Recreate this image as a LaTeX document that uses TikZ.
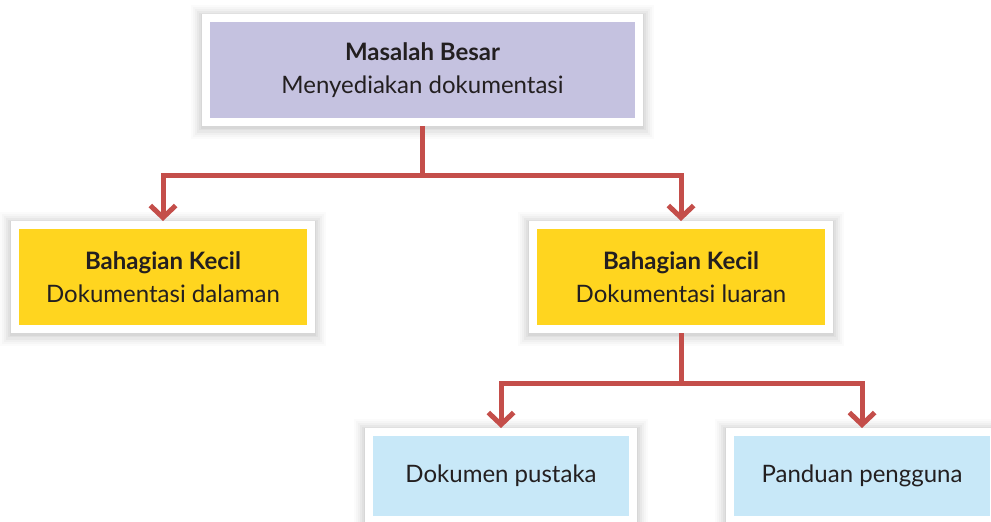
\documentclass[tikz,border=0pt]{standalone}
\usepackage{fontspec}
\setmainfont{Lato}
\usepackage{tikz}
\usetikzlibrary{arrows.meta,positioning,calc,shadows}
\definecolor{tplum}{RGB}{197,194,224}
\definecolor{tyellow}{RGB}{255,213,31}
\definecolor{tsky}{RGB}{200,232,248}
\definecolor{tred}{RGB}{196,78,74}
\definecolor{tink}{RGB}{35,31,32}
\tikzset{
  softshadow/.style={
    general shadow={draw=black, fill=black, line width=22pt, opacity=.015, shadow yshift=-1.5pt},
    general shadow={draw=black, fill=black, line width=19pt, opacity=.02, shadow yshift=-1.5pt},
    general shadow={draw=black, fill=black, line width=16pt, opacity=.025, shadow yshift=-1.5pt},
    general shadow={draw=black, fill=black, line width=13pt, opacity=.03, shadow yshift=-1.5pt},
    general shadow={draw=black, fill=black, line width=10pt, opacity=.035, shadow yshift=-1pt},
    general shadow={draw=black, fill=black, line width=8pt, opacity=.04, shadow yshift=-1pt}},
  panel/.style={softshadow, draw=white, line width=6pt, text=tink, align=center, inner sep=0pt,
    font=\fontsize{18}{24.75}\selectfont},
  bigbox/.style={panel, fill=tplum, minimum width=324.75pt, minimum height=78pt},
  partbox/.style={panel, fill=tyellow, minimum width=222pt, minimum height=78pt},
  leafbox/.style={panel, fill=tsky, minimum width=198pt, minimum height=66pt},
  link/.style={-{Straight Barb[length=9pt, width=19pt, line width=3.75pt]}, line width=3.75pt, draw=tred},
  trunk/.style={line width=3.75pt, draw=tred}
}

\begin{document}
\begin{tikzpicture}[x=0.75pt, y=-0.75pt]
  \useasboundingbox (0,0) rectangle (991,521);
  \node[bigbox] (masalah) at (422.5,70) {\textbf{Masalah Besar}\\Menyediakan dokumentasi};
  \node[partbox] (dalaman) at (163,277) {\textbf{Bahagian Kecil}\\Dokumentasi dalaman};
  \node[partbox] (luaran) at (681,277) {\textbf{Bahagian Kecil}\\Dokumentasi luaran};
  \node[leafbox] (pustaka) at (501,476) {Dokumen pustaka};
  \node[leafbox] (panduan) at (862,476) {Panduan pengguna};
  % split points
  \coordinate (upper) at (422.5,175);
  \coordinate (lower) at (681,383);
  \draw[trunk] (masalah.south) -- (upper);
  \draw[link] (upper) -| (dalaman.north);
  \draw[link] (upper) -| (luaran.north);
  \draw[trunk] (luaran.south) -- (lower);
  \draw[link] (lower) -| (pustaka.north);
  \draw[link] (lower) -| (panduan.north);
\end{tikzpicture}
\end{document}
